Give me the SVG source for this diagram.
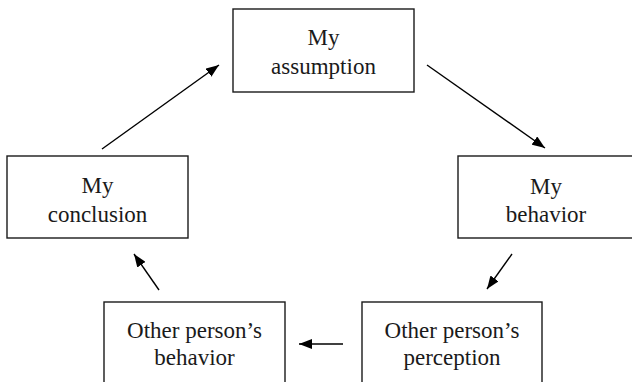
<svg xmlns="http://www.w3.org/2000/svg" width="632" height="382" viewBox="0 0 632 382">
<style>
.box{fill:#fff;stroke:#1a1a1a;stroke-width:1.4}
.lbl{font-size:23px;fill:#1a1a1a;text-anchor:middle}
.edge{stroke:#000;stroke-width:1.4;fill:none;marker-end:url(#ah)}
</style>
<defs>
<marker id="ah" markerUnits="userSpaceOnUse" markerWidth="14" markerHeight="10" refX="13" refY="5" orient="auto">
<path d="M0,0 L13,5 L0,10 Z" fill="#000"/>
</marker>
</defs>
<rect width="632" height="382" fill="#fff"/>
<g font-family="'Liberation Serif', 'DejaVu Serif', serif">
<g id="assumption">
<rect class="box" x="233" y="9" width="181" height="83"/>
<text class="lbl" x="323.5" y="45">My</text>
<text class="lbl" x="323.5" y="74">assumption</text>
</g>
<g id="my-behavior">
<rect class="box" x="458" y="156" width="178" height="82"/>
<text class="lbl" x="546" y="194">My</text>
<text class="lbl" x="546" y="222">behavior</text>
</g>
<g id="perception">
<rect class="box" x="362" y="302" width="180" height="90"/>
<text class="lbl" x="452" y="338">Other person’s</text>
<text class="lbl" x="452" y="365">perception</text>
</g>
<g id="other-behavior">
<rect class="box" x="104" y="302" width="181" height="90"/>
<text class="lbl" x="194.5" y="338">Other person’s</text>
<text class="lbl" x="194.5" y="365">behavior</text>
</g>
<g id="conclusion">
<rect class="box" x="7" y="156" width="181" height="82"/>
<text class="lbl" x="97.5" y="193">My</text>
<text class="lbl" x="97.5" y="222">conclusion</text>
</g>
</g>
<g id="connectors">
<line class="edge" x1="102" y1="149" x2="219" y2="65"/>
<line class="edge" x1="427" y1="65" x2="545" y2="148"/>
<line class="edge" x1="512" y1="254" x2="487" y2="289"/>
<line class="edge" x1="343" y1="344" x2="299" y2="344"/>
<line class="edge" x1="159" y1="290" x2="134" y2="254"/>
</g>
</svg>
